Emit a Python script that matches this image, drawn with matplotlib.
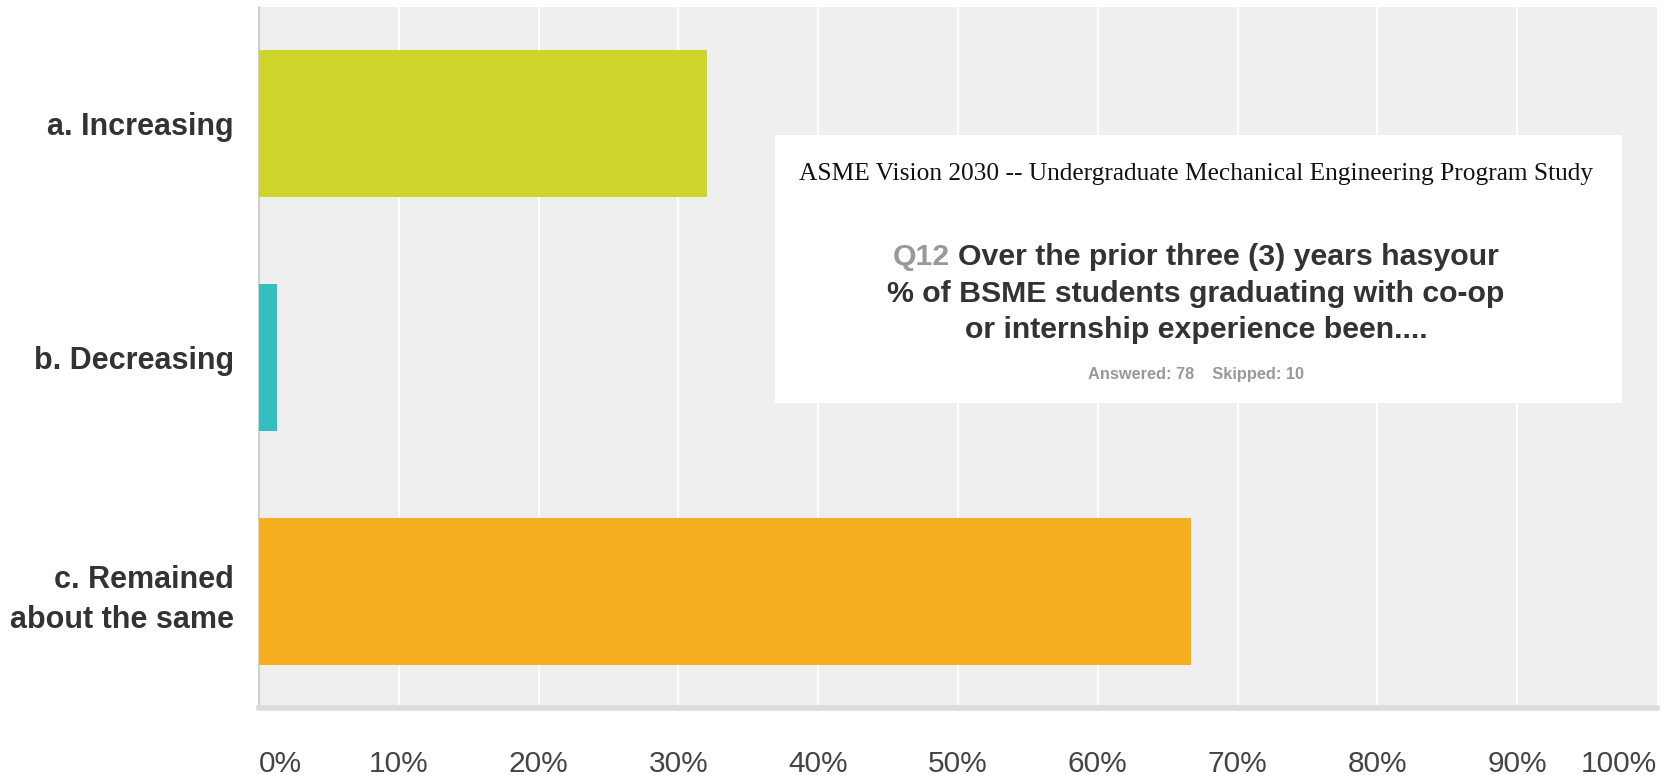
import matplotlib
matplotlib.use("Agg")
import matplotlib.pyplot as plt
import numpy as np

# Survey data (Q12), percent of respondents
categories = ["a. Increasing", "b. Decreasing", "c. Remained\nabout the same"]
percents = [32.05, 1.28, 66.67]
bar_colors = ["#cfd42a", "#33bfbf", "#f6b01f"]
xticks = list(range(0, 101, 10))
xtick_labels = ["%d%%" % t for t in xticks]

title = "ASME Vision 2030 -- Undergraduate Mechanical Engineering Program Study"
q_num = "Q12"
q_lines = ["Over the prior three (3) years hasyour",
           "% of BSME students graduating with co-op",
           "or internship experience been...."]
stats = "Answered: 78    Skipped: 10"

W, H = 1671, 775
fig = plt.figure(figsize=(W / 100, H / 100), dpi=100)
ax = fig.add_axes([259 / W, 1 - 708 / H, (1657 - 259) / W, (708 - 7) / H])
ax.set_facecolor("#efefef")

y = np.arange(len(categories))
ax.barh(y, percents, height=0.63, color=bar_colors, zorder=3)
ax.set_xlim(0, 100)
ax.set_ylim(len(categories) - 0.5, -0.5)

# grid
for t in xticks[1:-1]:
    ax.axvline(t, color="white", lw=1.4, zorder=1)

for s in ["top", "right"]:
    ax.spines[s].set_visible(False)
ax.spines["left"].set_color("#c8c8c8")
ax.spines["left"].set_linewidth(1.2)
ax.spines["bottom"].set_color("#dcdcdc")
ax.spines["bottom"].set_linewidth(4)

ax.set_yticks(y)
ax.set_yticklabels(categories, fontsize=22, fontweight="bold", color="#333333",
                   family="Liberation Sans", linespacing=1.45)
ax.set_xticks(xticks)
ax.set_xticklabels(xtick_labels, fontsize=21.5, color="#444444", family="Liberation Sans")
ax.tick_params(axis="y", length=0, pad=18)
ax.tick_params(axis="x", length=0, pad=30)
labels = ax.get_xticklabels()
labels[0].set_ha("left")
labels[-1].set_ha("right")

# white info box
bx0, by0, bx1, by1 = 775, 135, 1622, 403
box = plt.Rectangle((bx0 / W, 1 - by1 / H), (bx1 - bx0) / W, (by1 - by0) / H,
                    transform=fig.transFigure, facecolor="white", edgecolor="none", zorder=5)
fig.add_artist(box)

cx = 1196
fig.text(cx / W, 1 - 174 / H, title, ha="center", va="center", fontsize=18.3,
         family="Liberation Serif", color="#111111", zorder=6)

renderer = fig.canvas.get_renderer()
qfont = dict(fontsize=21.8, fontweight="bold", family="Liberation Sans", va="center", zorder=6)
line_y = [257, 294, 330]

t_q = fig.text(0, 0, q_num, color="#999999", **qfont)
t_r = fig.text(0, 0, q_lines[0], color="#333333", **qfont)
w_q = t_q.get_window_extent(renderer).width
w_r = t_r.get_window_extent(renderer).width
gap = 8
x0 = cx - (w_q + gap + w_r) / 2
t_q.set_position((x0 / W, 1 - line_y[0] / H))
t_r.set_position(((x0 + w_q + gap) / W, 1 - line_y[0] / H))
for line, ly in zip(q_lines[1:], line_y[1:]):
    fig.text(cx / W, 1 - ly / H, line, ha="center", color="#333333", **qfont)

fig.text(cx / W, 1 - 374 / H, stats, ha="center", va="center", fontsize=11.8,
         fontweight="bold", family="Liberation Sans", color="#999999", zorder=6)

fig.savefig("out.png", dpi=100, facecolor="white")
